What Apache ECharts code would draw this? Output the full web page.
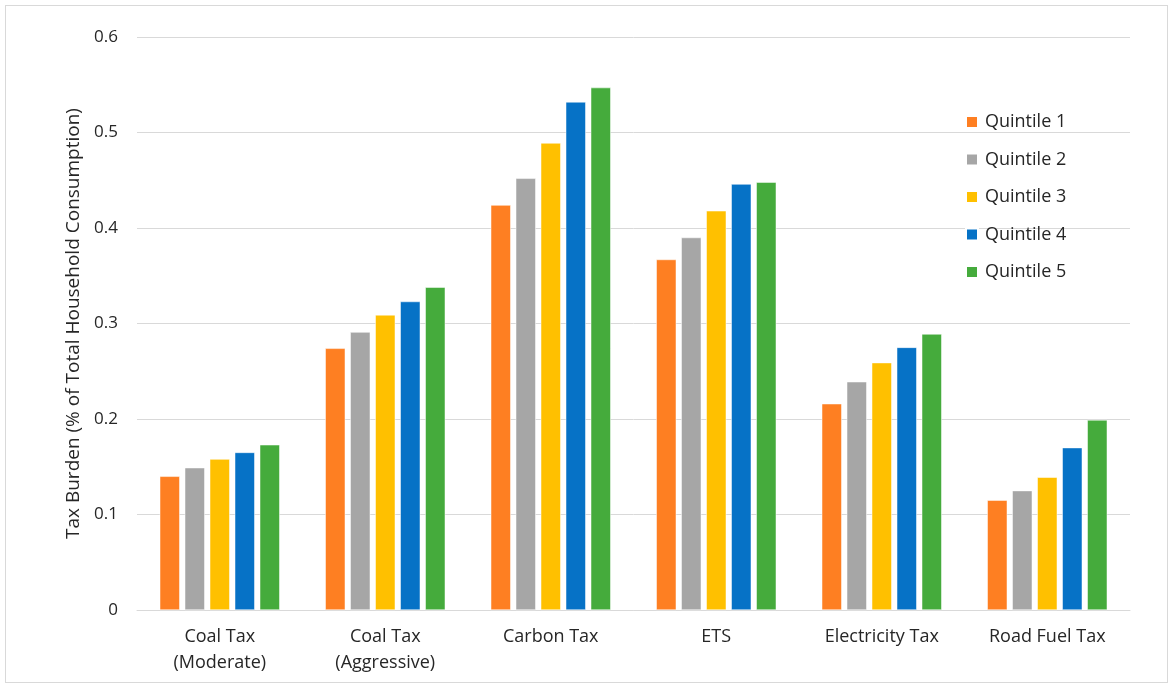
<!DOCTYPE html>
<html>
<head>
<meta charset="utf-8">
<script src="https://cdn.jsdelivr.net/npm/echarts@6/dist/echarts.min.js"></script>
<style>
  html, body { margin: 0; padding: 0; background: #fff; }
  #frame { position: absolute; left: 5px; top: 5px; width: 1163px; height: 678px; border: 1px solid #d9d9d9; box-sizing: border-box; }
  #chart { position: absolute; left: 0; top: 0; width: 1176px; height: 689px; }
</style>
</head>
<body>
<div id="frame"></div>
<div id="chart"></div>
<script>
// Tax categories along the x axis
const categories = ['Coal Tax\n(Moderate)', 'Coal Tax\n(Aggressive)', 'Carbon Tax', 'ETS', 'Electricity Tax', 'Road Fuel Tax'];
// Household consumption quintiles
const seriesNames = ['Quintile 1', 'Quintile 2', 'Quintile 3', 'Quintile 4', 'Quintile 5'];
// Tax burden (% of total household consumption) per quintile
const quintile1 = [0.140, 0.274, 0.424, 0.367, 0.216, 0.115];
const quintile2 = [0.149, 0.291, 0.452, 0.390, 0.239, 0.125];
const quintile3 = [0.158, 0.309, 0.489, 0.418, 0.259, 0.139];
const quintile4 = [0.165, 0.323, 0.532, 0.446, 0.275, 0.170];
const quintile5 = [0.173, 0.338, 0.547, 0.448, 0.289, 0.199];
const yTicks = [0, 0.1, 0.2, 0.3, 0.4, 0.5, 0.6];

const colors = ['#FE7F22', '#A6A6A6', '#FFC000', '#0672C6', '#45AB3C'];
const values = [quintile1, quintile2, quintile3, quintile4, quintile5];
const textColor = '#262626';
const font = 'Open Sans';

const chart = echarts.init(document.getElementById('chart'), null, { renderer: 'canvas' });
chart.setOption({
  animation: false,
  color: colors,
  grid: { left: 137, right: 46, top: 37, bottom: 79, containLabel: false },
  legend: {
    orient: 'vertical',
    left: 965,
    top: 113,
    padding: 0,
    itemWidth: 12,
    itemHeight: 12,
    itemGap: 19.5,
    icon: 'rect',
    textStyle: { fontFamily: font, fontSize: 18, color: textColor, padding: [0, 0, 0, 2] },
    data: seriesNames
  },
  xAxis: {
    type: 'category',
    data: categories,
    axisTick: { show: false },
    axisLine: { lineStyle: { color: '#d9d9d9', width: 1 } },
    axisLabel: {
      margin: 14,
      fontFamily: font,
      fontSize: 18,
      lineHeight: 26,
      color: textColor
    }
  },
  yAxis: {
    type: 'value',
    min: 0,
    max: 0.6,
    interval: 0.1,
    name: 'Tax Burden (% of Total Household Consumption)',
    nameLocation: 'middle',
    nameGap: 47,
    nameRotate: 90,
    nameTextStyle: {
      fontFamily: font,
      fontSize: 19,
      color: textColor
    },
    axisLine: { show: false },
    axisTick: { show: false },
    splitLine: { lineStyle: { color: '#d9d9d9', width: 1 } },
    axisLabel: {
      margin: 19,
      fontFamily: font,
      fontSize: 17,
      color: textColor,
      formatter: v => yTicks.includes(Math.round(v * 10) / 10) ? String(Math.round(v * 10) / 10) : ''
    }
  },
  series: seriesNames.map((name, i) => ({
    name,
    type: 'bar',
    data: values[i],
    barWidth: 20,
    barGap: '25%',
    itemStyle: { color: colors[i], borderColor: '#ffffff', borderWidth: 0.5 }
  }))
});
</script>
</body>
</html>
